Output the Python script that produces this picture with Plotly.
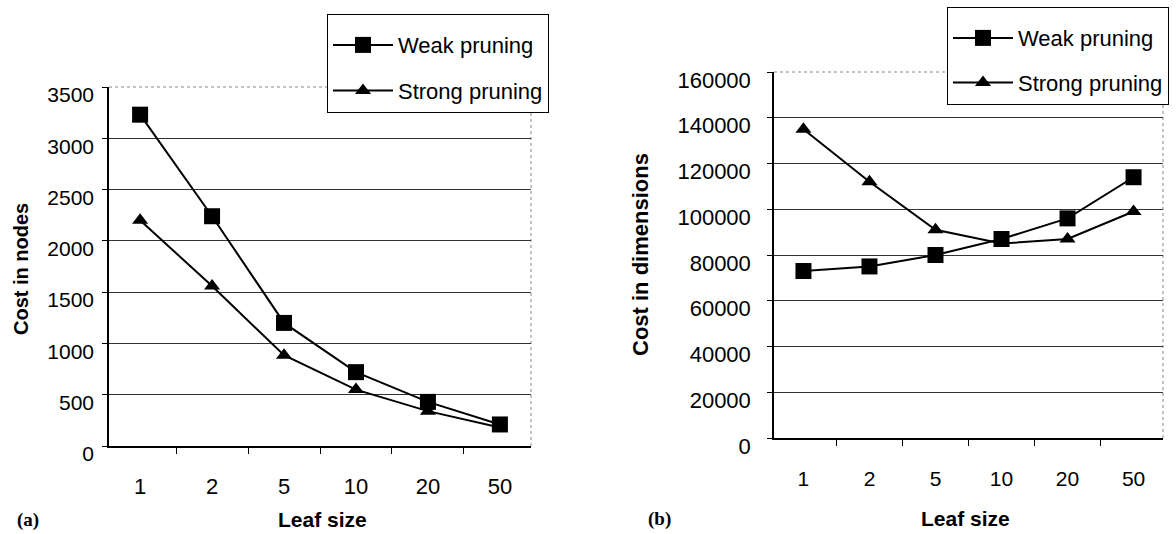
import plotly.graph_objects as go

leaf_sizes = ["1", "2", "5", "10", "20", "50"]
nodes_weak = [3230, 2240, 1200, 720, 430, 210]
nodes_strong = [2200, 1560, 885, 550, 340, 180]
dims_weak = [73000, 75000, 80000, 87000, 96000, 114000]
dims_strong = [135000, 112000, 91000, 85000, 87000, 99000]
nodes_ticks = [0, 500, 1000, 1500, 2000, 2500, 3000, 3500]
dims_ticks = [0, 20000, 40000, 60000, 80000, 100000, 120000, 140000, 160000]

W, H = 1176, 534
FONT = "Liberation Sans, Arial, sans-serif"

def px_x(p):
    return p / W

def px_y(p):
    return 1 - p / H

fig = go.Figure()

line = dict(color="black", width=2)
sq = dict(symbol="square", size=16, color="black")
tri = dict(symbol="triangle-up", size=14, color="black")

fig.add_trace(go.Scatter(x=leaf_sizes, y=nodes_weak, mode="lines+markers", name="Weak pruning",
                         line=line, marker=sq, xaxis="x", yaxis="y", legend="legend", legendgroup="a1"))
fig.add_trace(go.Scatter(x=leaf_sizes, y=nodes_strong, mode="lines+markers", name="Strong pruning",
                         line=line, marker=tri, xaxis="x", yaxis="y", legend="legend", legendgroup="a2"))
fig.add_trace(go.Scatter(x=leaf_sizes, y=dims_weak, mode="lines+markers", name="Weak pruning",
                         line=line, marker=sq, xaxis="x2", yaxis="y2", legend="legend2", legendgroup="b1"))
fig.add_trace(go.Scatter(x=leaf_sizes, y=dims_strong, mode="lines+markers", name="Strong pruning",
                         line=line, marker=tri, xaxis="x2", yaxis="y2", legend="legend2", legendgroup="b2"))

def xaxis_cfg(domain, anchor, fsize, standoff):
    return dict(domain=domain, anchor=anchor, type="category", tickson="boundaries",
                ticks="outside", ticklen=6, tickcolor="black", showline=True, linecolor="black",
                linewidth=1.5, showgrid=False, zeroline=False, automargin=False,
                tickfont=dict(family=FONT, size=fsize, color="black"),
                ticklabelstandoff=standoff, fixedrange=True)

def yaxis_cfg(domain, anchor, rng, tickvals, standoff, fsize):
    return dict(domain=domain, anchor=anchor, range=rng, tickvals=tickvals,
                ticktext=[str(v) for v in tickvals], automargin=False,
                ticks="outside", ticklen=5, tickcolor="black", showline=True, linecolor="black",
                linewidth=1.5, showgrid=True, gridcolor="#333333", gridwidth=1, zeroline=False,
                tickfont=dict(family=FONT, size=fsize, color="black"),
                ticklabelshift=8, ticklabelstandoff=standoff, fixedrange=True)

xa_dom = [px_x(109), px_x(531)]
ya_dom = [px_y(446), px_y(87)]
xb_dom = [px_x(774), px_x(1163)]
yb_dom = [px_y(438), px_y(72)]

legend_font = dict(family=FONT, size=22, color="black")
legend_title = dict(text=" ", font=dict(family=FONT, size=7))
fig.update_layout(
    template="none",
    width=W, height=H,
    margin=dict(l=0, r=0, t=0, b=0, autoexpand=False),
    paper_bgcolor="white", plot_bgcolor="white",
    font=dict(family=FONT, color="black"),
    xaxis=xaxis_cfg(xa_dom, "y", 22, 20),
    yaxis=yaxis_cfg(ya_dom, "x", [0, 3500], nodes_ticks, 4, 21),
    xaxis2=xaxis_cfg(xb_dom, "y2", 21, 21),
    yaxis2=yaxis_cfg(yb_dom, "x2", [0, 160000], dims_ticks, 12, 22),
    legend=dict(x=px_x(327), y=px_y(14), xanchor="left", yanchor="top",
                bordercolor="black", borderwidth=1, bgcolor="white", title=legend_title,
                font=legend_font, tracegroupgap=14, itemwidth=60),
    legend2=dict(x=px_x(947), y=px_y(7), xanchor="left", yanchor="top",
                 bordercolor="black", borderwidth=1, bgcolor="white", title=legend_title,
                 font=legend_font, tracegroupgap=13, itemwidth=60),
    showlegend=True,
)

# dotted gray frame (top/right)
for xr, yr in (("x domain", "y domain"), ("x2 domain", "y2 domain")):
    fig.add_shape(type="line", xref=xr, yref=yr, x0=0, x1=1, y0=1, y1=1,
                  line=dict(color="#888888", width=1, dash="dot"), layer="below")
    fig.add_shape(type="line", xref=xr, yref=yr, x0=1, x1=1, y0=0, y1=1,
                  line=dict(color="#888888", width=1, dash="dot"), layer="below")

def ann(text, x, y, font, angle=0):
    fig.add_annotation(text=text, x=px_x(x), y=px_y(y), xref="paper", yref="paper",
                       xanchor="center", yanchor="middle", textangle=angle,
                       showarrow=False, font=font)

ann("<b>Cost in nodes</b>", 21, 269, dict(family=FONT, size=20, color="black"), -90)
ann("<b>Cost in dimensions</b>", 641, 255, dict(family=FONT, size=22, color="black"), -90)
ann("<b>Leaf size</b>", 322, 519, dict(family=FONT, size=21, color="black"))
ann("<b>Leaf size</b>", 965, 518, dict(family=FONT, size=21, color="black"))
serif = dict(family="Liberation Serif, Times New Roman, serif", size=19, color="black")
ann("<b>(a)</b>", 28, 520, serif)
ann("<b>(b)</b>", 659, 519, serif)

fig.write_html("out.html", config={"displayModeBar": False},
               post_script="document.body.style.margin='0';")
